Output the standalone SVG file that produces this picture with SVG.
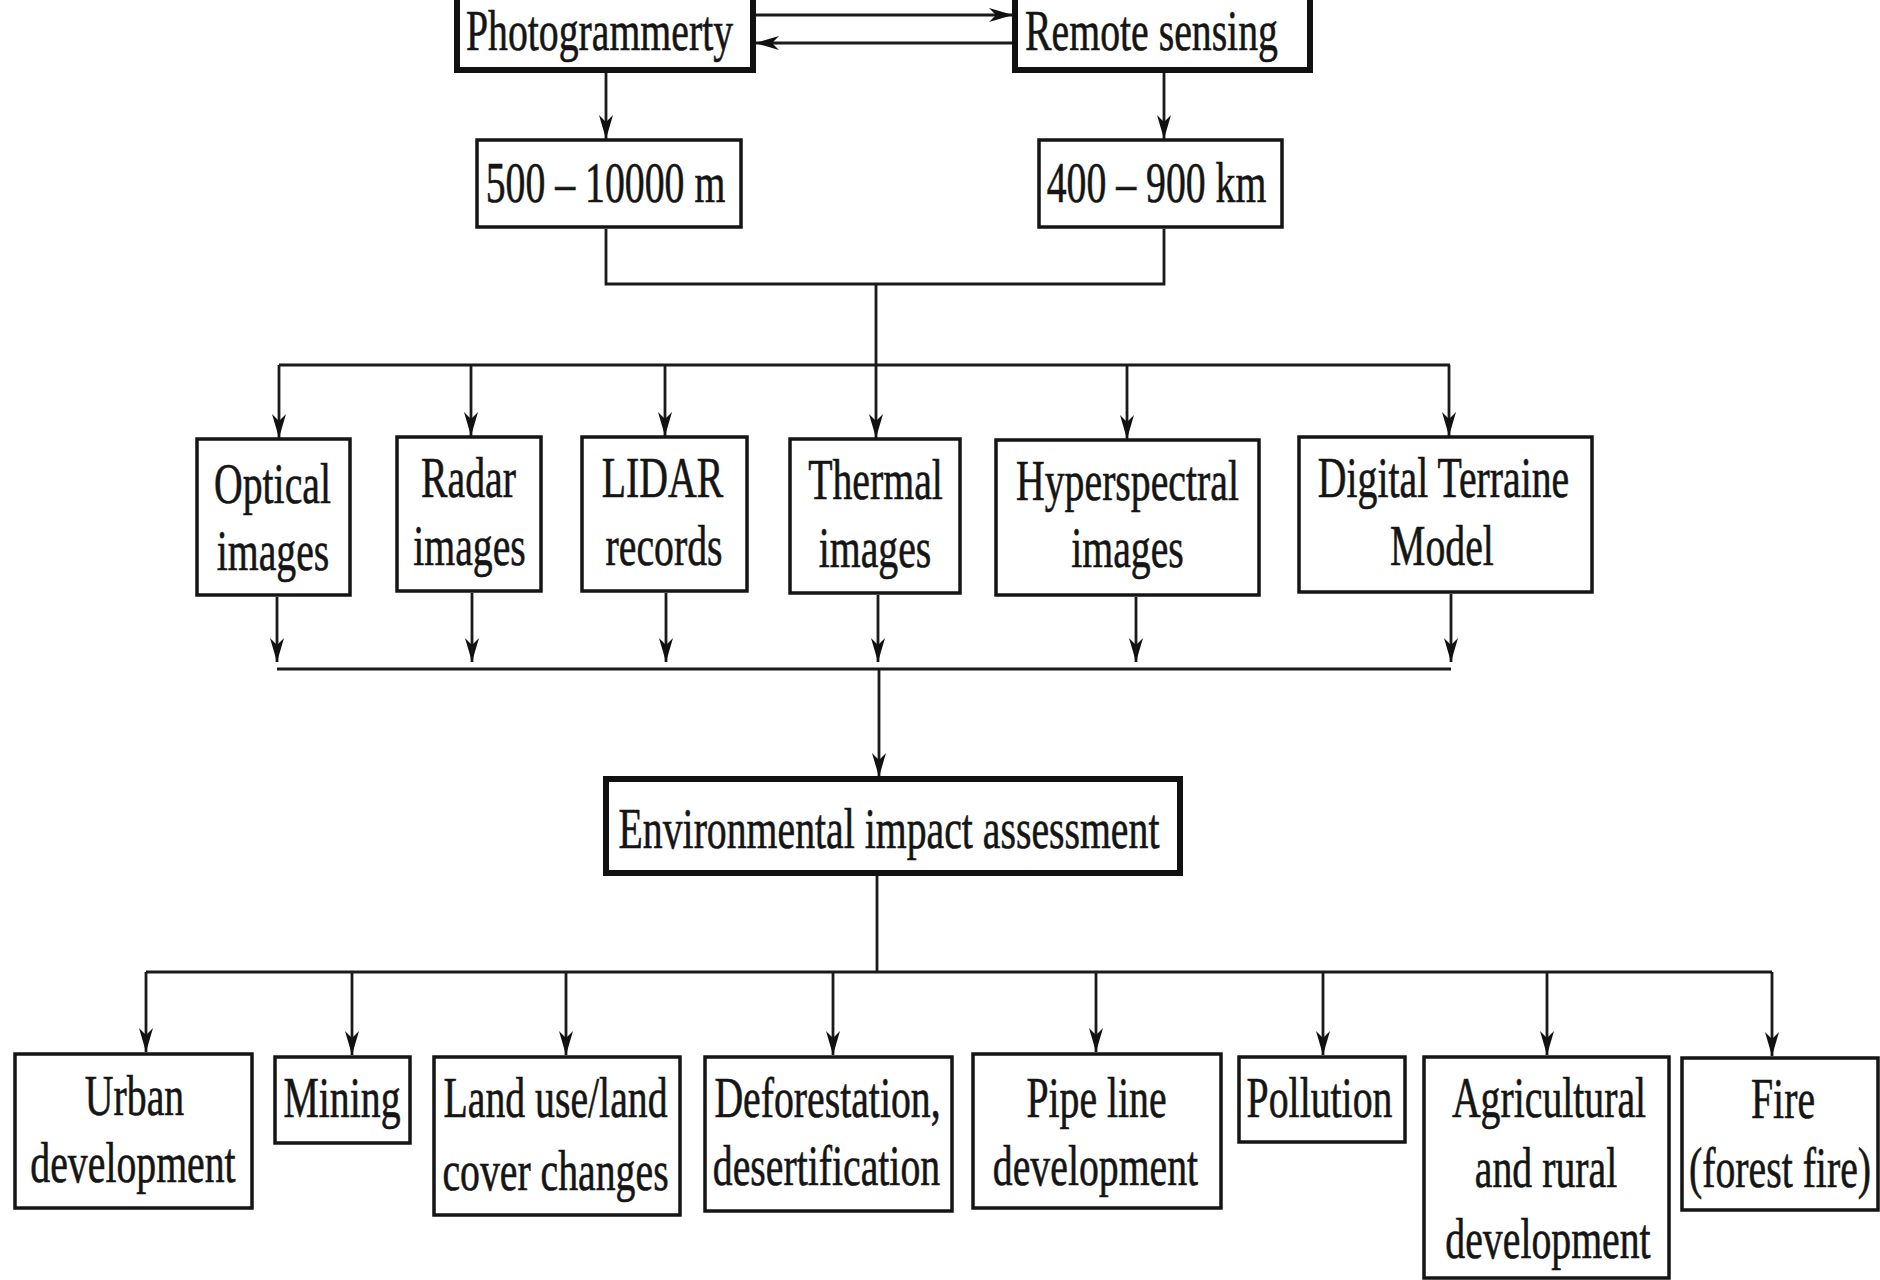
<svg xmlns="http://www.w3.org/2000/svg" width="1880" height="1280" viewBox="0 0 1880 1280">
<style>
.bx{fill:#fff;stroke:#151515;stroke-width:3.5}
.bk{fill:#fff;stroke:#111;stroke-width:6}
.t{font-family:"Liberation Serif","Times New Roman",serif;font-size:56px;fill:#151515;stroke:#151515;stroke-width:0.6;text-anchor:middle}
.c{fill:none;stroke:#1a1a1a;stroke-width:2.8}
</style>
<defs>
<marker id="ah" markerUnits="userSpaceOnUse" viewBox="0 0 24 14" markerWidth="24" markerHeight="14" refX="24" refY="7" orient="auto">
<path d="M0,0 L24,7 L0,14 L7,7 Z" fill="#111"/>
</marker>
</defs>
<rect width="1880" height="1280" fill="#fff"/>
<g id="connectors">
<line class="c" x1="754" y1="15" x2="1013" y2="15" marker-end="url(#ah)"/>
<line class="c" x1="1014" y1="43" x2="755" y2="43" marker-end="url(#ah)"/>
<line class="c" x1="606" y1="72" x2="606" y2="139" marker-end="url(#ah)"/>
<line class="c" x1="1164" y1="72" x2="1164" y2="139" marker-end="url(#ah)"/>
<path class="c" d="M606,229 V284 H1164 V229"/>
<line class="c" x1="876" y1="284" x2="876" y2="365"/>
<line class="c" x1="279" y1="365" x2="1450" y2="365"/>
<line class="c" x1="279" y1="365" x2="279" y2="438" marker-end="url(#ah)"/>
<line class="c" x1="471" y1="365" x2="471" y2="436" marker-end="url(#ah)"/>
<line class="c" x1="665" y1="365" x2="665" y2="436" marker-end="url(#ah)"/>
<line class="c" x1="876" y1="365" x2="876" y2="438" marker-end="url(#ah)"/>
<line class="c" x1="1127" y1="365" x2="1127" y2="439" marker-end="url(#ah)"/>
<line class="c" x1="1449" y1="365" x2="1449" y2="436" marker-end="url(#ah)"/>
<line class="c" x1="277" y1="597" x2="277" y2="662" marker-end="url(#ah)"/>
<line class="c" x1="472" y1="593" x2="472" y2="662" marker-end="url(#ah)"/>
<line class="c" x1="666" y1="593" x2="666" y2="662" marker-end="url(#ah)"/>
<line class="c" x1="878" y1="595" x2="878" y2="662" marker-end="url(#ah)"/>
<line class="c" x1="1136" y1="597" x2="1136" y2="662" marker-end="url(#ah)"/>
<line class="c" x1="1451" y1="594" x2="1451" y2="662" marker-end="url(#ah)"/>
<line class="c" x1="277" y1="669" x2="1451" y2="669"/>
<line class="c" x1="879" y1="669" x2="879" y2="777" marker-end="url(#ah)"/>
<line class="c" x1="877" y1="876" x2="877" y2="972"/>
<line class="c" x1="146" y1="972" x2="1772" y2="972"/>
<line class="c" x1="146" y1="972" x2="146" y2="1052" marker-end="url(#ah)"/>
<line class="c" x1="352" y1="972" x2="352" y2="1055" marker-end="url(#ah)"/>
<line class="c" x1="566" y1="972" x2="566" y2="1055" marker-end="url(#ah)"/>
<line class="c" x1="833" y1="972" x2="833" y2="1055" marker-end="url(#ah)"/>
<line class="c" x1="1096" y1="972" x2="1096" y2="1052" marker-end="url(#ah)"/>
<line class="c" x1="1323" y1="972" x2="1323" y2="1055" marker-end="url(#ah)"/>
<line class="c" x1="1547" y1="972" x2="1547" y2="1055" marker-end="url(#ah)"/>
<line class="c" x1="1772" y1="972" x2="1772" y2="1056" marker-end="url(#ah)"/>
</g>
<g id="photogrammetry"><rect class="bk" x="457" y="-10" width="296" height="80"/><text class="t" transform="translate(599.5,50) scale(0.71,1)">Photogrammerty</text></g>
<g id="remote-sensing"><rect class="bk" x="1015" y="-10" width="295" height="80"/><text class="t" transform="translate(1151.5,50) scale(0.71,1)">Remote sensing</text></g>
<g id="range-m"><rect class="bx" x="477" y="140" width="264" height="87"/><text class="t" transform="translate(605.5,202) scale(0.71,1)">500 – 10000 m</text></g>
<g id="range-km"><rect class="bx" x="1039" y="140" width="243" height="87"/><text class="t" transform="translate(1156.5,202) scale(0.71,1)">400 – 900 km</text></g>
<g id="optical"><rect class="bx" x="197" y="439" width="153" height="156"/><text class="t" transform="translate(272.5,503) scale(0.71,1)">Optical</text><text class="t" transform="translate(273,570) scale(0.71,1)">images</text></g>
<g id="radar"><rect class="bx" x="397" y="437" width="144" height="154"/><text class="t" transform="translate(468.5,497) scale(0.71,1)">Radar</text><text class="t" transform="translate(469.5,565) scale(0.71,1)">images</text></g>
<g id="lidar"><rect class="bx" x="582" y="437" width="165" height="154"/><text class="t" transform="translate(662.5,497) scale(0.71,1)">LIDAR</text><text class="t" transform="translate(664,565) scale(0.71,1)">records</text></g>
<g id="thermal"><rect class="bx" x="790" y="439" width="170" height="154"/><text class="t" transform="translate(875.5,499) scale(0.71,1)">Thermal</text><text class="t" transform="translate(875,567) scale(0.71,1)">images</text></g>
<g id="hyperspectral"><rect class="bx" x="996" y="440" width="263" height="155"/><text class="t" transform="translate(1127.5,500) scale(0.71,1)">Hyperspectral</text><text class="t" transform="translate(1127.5,567) scale(0.71,1)">images</text></g>
<g id="dtm"><rect class="bx" x="1299" y="437" width="293" height="155"/><text class="t" transform="translate(1443.5,497) scale(0.71,1)">Digital Terraine</text><text class="t" transform="translate(1442,565) scale(0.71,1)">Model</text></g>
<g id="eia"><rect class="bk" x="606" y="779" width="574" height="94"/><text class="t" transform="translate(889,848) scale(0.71,1)">Environmental impact assessment</text></g>
<g id="urban"><rect class="bx" x="15" y="1054" width="237" height="154"/><text class="t" transform="translate(134.5,1115) scale(0.71,1)">Urban</text><text class="t" transform="translate(133,1182) scale(0.71,1)">development</text></g>
<g id="mining"><rect class="bx" x="275" y="1057" width="135" height="86"/><text class="t" transform="translate(342,1117) scale(0.71,1)">Mining</text></g>
<g id="landuse"><rect class="bx" x="434" y="1057" width="246" height="158"/><text class="t" transform="translate(555.5,1117) scale(0.71,1)">Land use/land</text><text class="t" transform="translate(555.5,1190) scale(0.71,1)">cover changes</text></g>
<g id="deforestation"><rect class="bx" x="705" y="1057" width="247" height="154"/><text class="t" transform="translate(827.5,1117) scale(0.71,1)">Deforestation,</text><text class="t" transform="translate(826.5,1185) scale(0.71,1)">desertification</text></g>
<g id="pipeline"><rect class="bx" x="973" y="1054" width="248" height="154"/><text class="t" transform="translate(1096.5,1117) scale(0.71,1)">Pipe line</text><text class="t" transform="translate(1095.5,1185) scale(0.71,1)">development</text></g>
<g id="pollution"><rect class="bx" x="1239" y="1057" width="166" height="85"/><text class="t" transform="translate(1319.5,1117) scale(0.71,1)">Pollution</text></g>
<g id="agricultural"><rect class="bx" x="1424" y="1057" width="245" height="221"/><text class="t" transform="translate(1549,1117) scale(0.71,1)">Agricultural</text><text class="t" transform="translate(1546,1187) scale(0.71,1)">and rural</text><text class="t" transform="translate(1548,1258) scale(0.71,1)">development</text></g>
<g id="fire"><rect class="bx" x="1682" y="1058" width="196" height="152"/><text class="t" transform="translate(1783,1118) scale(0.71,1)">Fire</text><text class="t" transform="translate(1780,1187) scale(0.71,1)">(forest fire)</text></g>
</svg>
